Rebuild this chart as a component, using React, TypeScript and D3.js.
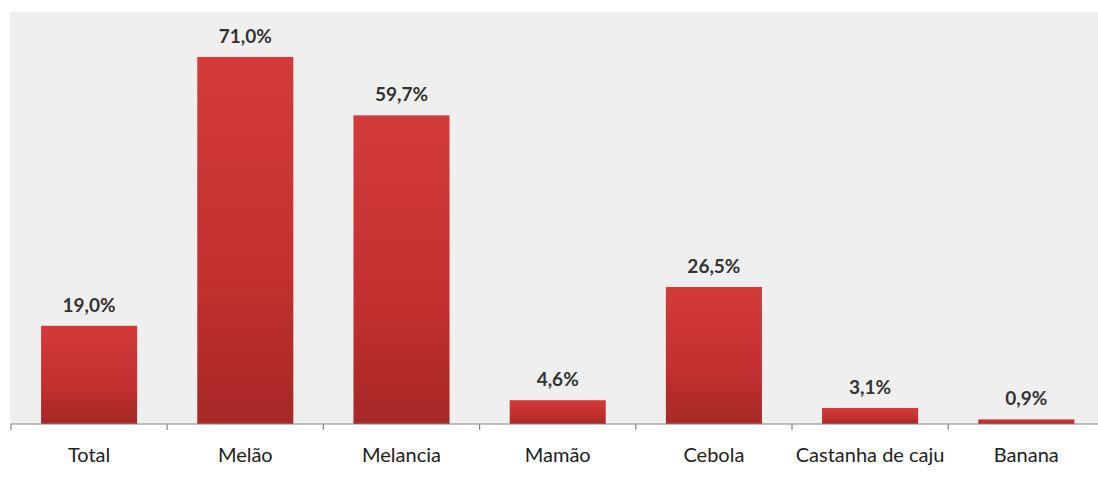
import React from "react";
import * as d3 from "d3";

const categories = ["Total", "Melão", "Melancia", "Mamão", "Cebola", "Castanha de caju", "Banana"];
const values = [19.0, 71.0, 59.7, 4.6, 26.5, 3.1, 0.9];
const valueLabels = ["19,0%", "71,0%", "59,7%", "4,6%", "26,5%", "3,1%", "0,9%"];

const W = 1098;
const H = 477;
const plotLeft = 11;
const plotTop = 12;
const baseY = 424;
const step = 156.2;

export default function App() {
  const x = d3
    .scaleBand<string>()
    .domain(categories)
    .range([plotLeft, plotLeft + step * categories.length])
    .paddingInner(0.385)
    .paddingOuter(0.1925);
  const y = d3.scaleLinear().domain([0, 80]).range([baseY, baseY - 80 * 5.17]);
  const bw = x.bandwidth();
  const st = x.step();
  const font = "Lato, 'Open Sans', sans-serif";

  return (
    <div style={{ position: "absolute", left: 0, top: 0 }}>
      <svg width={W} height={H} style={{ display: "block", background: "#fff" }}>
        <defs>
          <linearGradient id="barGrad" x1="0" y1="0" x2="0" y2="1">
            <stop offset="0%" stopColor="#d23b3a" />
            <stop offset="60%" stopColor="#c2302f" />
            <stop offset="100%" stopColor="#a62827" />
          </linearGradient>
        </defs>
        <rect x={plotLeft - 1} y={plotTop} width={W - plotLeft + 1} height={baseY - plotTop} fill="#efefef" />
        {categories.map((c, i) => (
          <g key={c}>
            <rect
              x={x(c)!}
              y={y(values[i])}
              width={bw}
              height={baseY - y(values[i])}
              fill="url(#barGrad)"
            />
            <text
              x={x(c)! + bw / 2}
              y={y(values[i]) - 14}
              textAnchor="middle"
              fontFamily={font}
              fontWeight={700}
              fontSize={19}
              fill="#333"
            >
              {valueLabels[i]}
            </text>
            <text
              x={x(c)! + bw / 2}
              y={462}
              textAnchor="middle"
              fontFamily={font}
              fontSize={20}
              fill="#222"
            >
              {c}
            </text>
          </g>
        ))}
        <line x1={plotLeft} x2={W} y1={baseY} y2={baseY} stroke="#888" strokeWidth={1.2} />
        {d3.range(categories.length + 1).map((i) => {
          const tx = plotLeft + i * st;
          return <line key={i} x1={tx} x2={tx} y1={baseY} y2={baseY + 6} stroke="#888" strokeWidth={1.2} />;
        })}
      </svg>
    </div>
  );
}
